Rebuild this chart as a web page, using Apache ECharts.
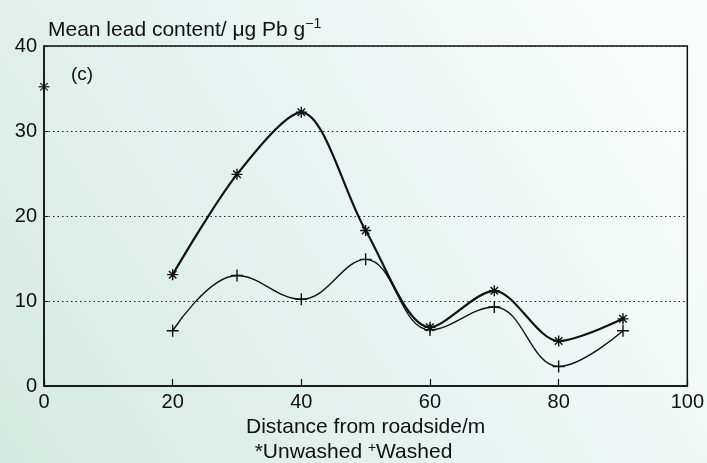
<!DOCTYPE html>
<html>
<head>
<meta charset="utf-8">
<script src="https://cdn.jsdelivr.net/npm/echarts@6/dist/echarts.min.js"></script>
<style>
html,body{margin:0;padding:0;}
#c{width:707px;height:463px;}
</style>
</head>
<body>
<div id="c"></div>
<script>
// Data
const distances = [0, 20, 30, 40, 50, 60, 70, 80, 90];
const unwashed = [35.2, 13.1, 24.9, 32.2, 18.3, 6.9, 11.2, 5.3, 7.9];
const washedDist = [20, 30, 40, 50, 60, 70, 80, 90];
const washed = [6.5, 13.0, 10.2, 14.9, 6.6, 9.3, 2.3, 6.5];
const xTicks = [0, 20, 40, 60, 80, 100];
const yTicks = [0, 10, 20, 30, 40];

const STAR = 'path://M5,0 L5,10 M0,5 L10,5 M1.6,1.6 L8.4,8.4 M8.4,1.6 L1.6,8.4';
const PLUS = 'path://M5,0 L5,10 M0,5 L10,5';
const FONT = '"Liberation Sans", Arial, sans-serif';
const FS = 20;
const FSN = 21;

const unwashedLine = distances.slice(1).map((d, i) => [d, unwashed[i + 1]]);
const unwashedLone = [[distances[0], unwashed[0]]];
const washedLine = washedDist.map((d, i) => [d, washed[i]]);

const chart = echarts.init(document.getElementById('c'));
chart.setOption({
  animation: false,
  backgroundColor: new echarts.graphic.LinearGradient(0, 1, 1, 0, [
    {offset: 0, color: '#d2eae1'},
    {offset: 0.5, color: '#e8f4f1'},
    {offset: 1, color: '#fbfdfc'}
  ]),
  textStyle: {fontFamily: FONT},
  title: [
    {
      text: 'Mean lead content/ μg Pb g{sup|−1}',
      left: 43, top: 12,
      textStyle: {
        fontFamily: FONT, fontSize: FSN, fontWeight: 'normal', color: '#111',
        rich: {sup: {fontSize: 14, verticalAlign: 'top', padding: [0, 0, 12, 0], color: '#111', fontFamily: FONT}}
      }
    },
    {
      text: '(c)',
      left: 66, top: 60,
      textStyle: {fontFamily: FONT, fontSize: 19, fontWeight: 'normal', color: '#111'}
    },
    {
      text: '*Unwashed {sup|+}Washed',
      left: 'center', top: 436,
      textStyle: {
        fontFamily: FONT, fontSize: FSN, fontWeight: 'normal', color: '#111',
        rich: {sup: {fontSize: 14, padding: [0, 0, 9, 0], color: '#111', fontFamily: FONT}}
      }
    }
  ],
  grid: {
    left: 44, right: 19, top: 46, bottom: 77,
    show: true, borderColor: '#111', borderWidth: 1.5, backgroundColor: 'transparent'
  },
  xAxis: {
    type: 'value', min: 0, max: 100, interval: 20,
    name: 'Distance from roadside/m', nameLocation: 'middle', nameGap: 31,
    nameTextStyle: {fontFamily: FONT, fontSize: FSN, color: '#111'},
    axisLine: {lineStyle: {color: '#111', width: 1.5}},
    axisTick: {inside: true, length: 7, lineStyle: {color: '#111', width: 1.2}},
    axisLabel: {fontFamily: FONT, fontSize: FS, color: '#111', margin: 6,
      formatter: v => xTicks.includes(v) ? String(v) : ''},
    splitLine: {show: false}
  },
  yAxis: {
    type: 'value', min: 0, max: 40, interval: 10,
    axisLine: {show: true, lineStyle: {color: '#111', width: 1.5}},
    axisTick: {show: true, inside: true, length: 4, lineStyle: {color: '#111', width: 1}},
    axisLabel: {fontFamily: FONT, fontSize: FS, color: '#111', margin: 7,
      formatter: v => yTicks.includes(v) ? String(v) : ''},
    splitLine: {show: true, lineStyle: {color: '#222', type: [1.5, 3], width: 1.2}}
  },
  series: [
    {
      type: 'line', data: unwashedLine, smooth: 0.3,
      symbol: STAR, symbolSize: 11,
      lineStyle: {color: '#111', width: 2.2},
      itemStyle: {color: 'rgba(0,0,0,0)', borderColor: '#111', borderWidth: 1.4},
      z: 3
    },
    {
      type: 'scatter', data: unwashedLone, clip: false,
      symbol: STAR, symbolSize: 11,
      itemStyle: {color: 'rgba(0,0,0,0)', borderColor: '#111', borderWidth: 1.4},
      z: 4
    },
    {
      type: 'line', data: washedLine, smooth: 0.4,
      symbol: PLUS, symbolSize: 12,
      lineStyle: {color: '#111', width: 1.4},
      itemStyle: {color: 'rgba(0,0,0,0)', borderColor: '#111', borderWidth: 1.4},
      z: 3
    }
  ]
});
</script>
</body>
</html>
